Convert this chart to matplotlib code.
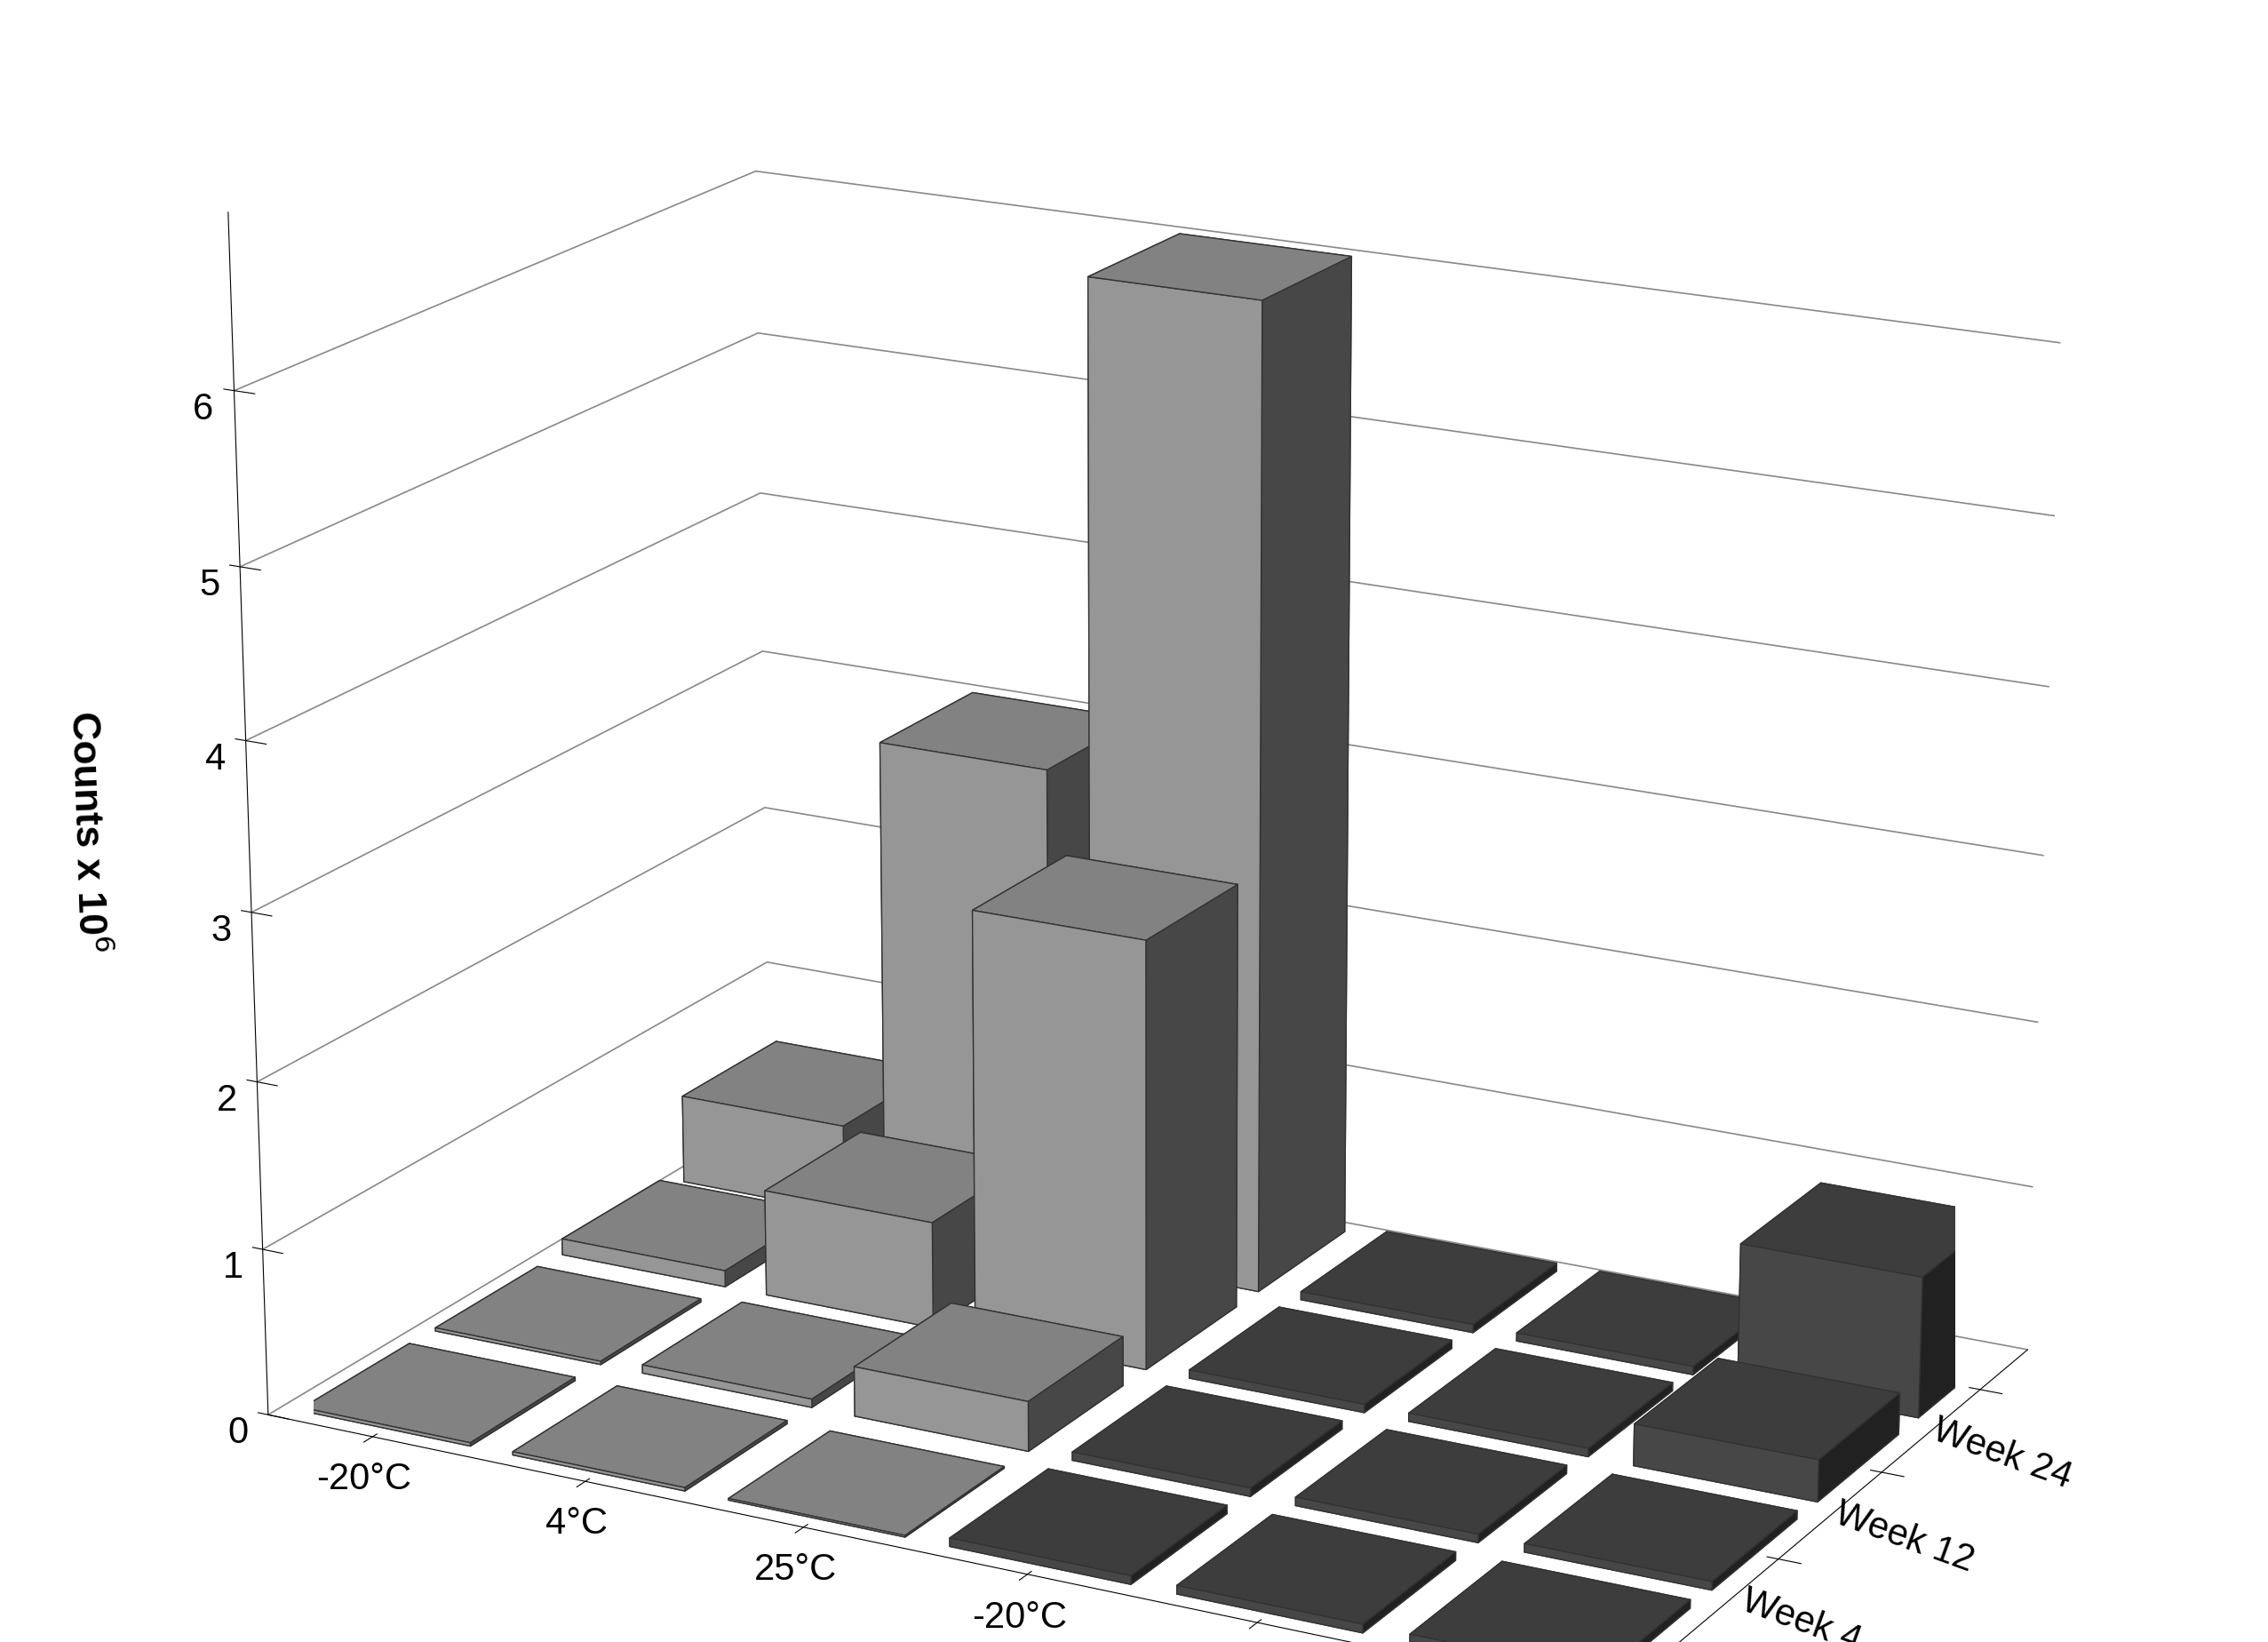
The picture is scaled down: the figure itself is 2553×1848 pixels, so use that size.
import matplotlib.pyplot as plt
import numpy as np

plt.rcParams['font.family'] = ['Liberation Sans', 'DejaVu Sans']

# Daten
temps = ['-20°C', '4°C', '25°C', '-20°C', '4°C', '25°C']
weeks = ['Week 0', 'Week 4', 'Week 12', 'Week 24']
# Zeilen = Temperatur, Spalten = Woche
counts = np.array([
    [0.02, 0.02, 0.10, 0.55],
    [0.02, 0.05, 0.65, 3.00],
    [0.01, 0.30, 2.60, 6.00],
    [0.05, 0.05, 0.05, 0.05],
    [0.05, 0.05, 0.05, 0.05],
    [0.05, 0.05, 0.25, 0.85],
])
colors = ['#aaaaaa'] * 3 + ['#505050'] * 3

fig = plt.figure(figsize=(25.53, 18.48), dpi=100)
ax = fig.add_subplot(111, projection='3d')
ax.set_position([0.0, 0.0, 1.0, 1.0])

w = 0.8
for i in range(len(temps)):
    for j in range(len(weeks)):
        ax.bar3d(i - w / 2, j - w / 2, 0, w, w, counts[i, j],
                 color=colors[i], edgecolor='#333333', linewidth=1, shade=True)

ax.set_xticks(range(len(temps)))
ax.set_xticklabels(temps, fontsize=30)
ax.set_yticks(range(len(weeks)))
ax.set_yticklabels(weeks, fontsize=30, rotation=-20)
ax.set_zticks(range(7))
ax.set_zticklabels([str(v) for v in range(7)], fontsize=30)
ax.set_zlim(0, 7)
ax.set_xlim(-0.5, 5.5)
ax.set_ylim(-0.5, 3.5)
ax.zaxis._axinfo['juggled'] = (1, 2, 0)
ax.set_zlabel('Counts x 10$^6$', fontsize=32, fontweight='bold', labelpad=40)

for axis in (ax.xaxis, ax.yaxis, ax.zaxis):
    axis.set_pane_color((1, 1, 1, 0))
    axis._axinfo['grid']['color'] = '#888888'
    axis._axinfo['grid']['linewidth'] = 1.2
ax.xaxis._axinfo['grid']['linewidth'] = 0
ax.yaxis._axinfo['grid']['linewidth'] = 0

ax.set_box_aspect((6, 4, 5), zoom=1.3)
ax.view_init(elev=18, azim=-62)

plt.savefig('out.png', dpi=100)
